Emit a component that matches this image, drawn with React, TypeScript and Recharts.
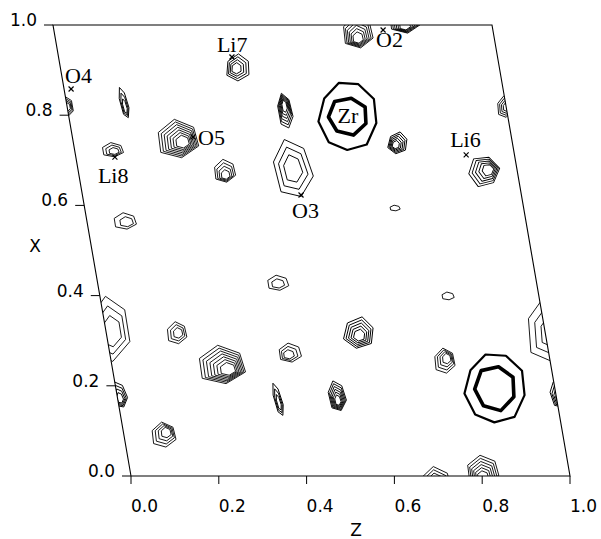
import React from 'react'
import { ScatterChart, Scatter, XAxis, YAxis } from 'recharts'

// cell geometry: horizontal plot coordinate h = z + SHEAR * x
const SHEAR = -0.1777

// axis ticks (fractional coordinates)
const Z_TICKS = [0, 0.2, 0.4, 0.6, 0.8, 1.0]
const X_TICKS = [0, 0.2, 0.4, 0.6, 0.8, 1.0]

// unit cell outline
const CELL_Z = [0, 1, 1, 0, 0]
const CELL_X = [0, 0, 1, 1, 0]

// marked atom sites
const ATOM_NAMES = ['O4', 'Li7', 'O2', 'O5', 'Li8', 'O3', 'Li6']
const ATOM_Z = [0.016, 0.395, 0.75, 0.275, 0.089, 0.498, 0.89]
const ATOM_X = [0.858, 0.929, 0.989, 0.752, 0.707, 0.623, 0.712]

// heavy-atom maxima (Zr and its inversion image)
const HEAVY_NAMES = ['Zr', '']
const HEAVY_Z = [0.636, 0.864]
const HEAVY_X = [0.798, 0.195]
const HEAVY_OUTER_DZ = [0.132, 0.137]
const HEAVY_OUTER_DX = [0.155, 0.157]
const HEAVY_INNER_DZ = [0.089, 0.093]
const HEAVY_INNER_DX = [0.084, 0.1]

// small density peaks: centre, extent of outermost contour, number of contour levels
const PEAK_Z = [0.692, 0.804, 0.405, 0.131, -0.003, 0.087, 0.24, 0.334, 0.495, 0.49, 0.739, 0.924, 0.087, 0.707, 0.008, 0.005, 0.161, 0.251, 0.411, 0.411, 0.576, 0.365, 0.501, 0.793, 0.76, 0.091]
const PEAK_X = [0.984, 0.013, 0.905, 0.827, 0.818, 0.723, 0.747, 0.676, 0.809, 0.681, 0.738, 0.676, 0.565, 0.594, 0.324, 0.18, 0.317, 0.246, 0.428, 0.273, 0.317, 0.169, 0.177, 0.399, 0.255, 0.091]
const PEAK_DZ = [0.073, 0.077, 0.057, 0.018, 0.036, 0.052, 0.1, 0.052, 0.034, 0.091, 0.046, 0.073, 0.055, 0.025, 0.1, 0.036, 0.048, 0.114, 0.052, 0.055, 0.073, 0.018, 0.041, 0.03, 0.05, 0.059]
const PEAK_DX = [0.075, 0.067, 0.062, 0.073, 0.049, 0.033, 0.089, 0.053, 0.082, 0.137, 0.051, 0.071, 0.038, 0.013, 0.151, 0.062, 0.051, 0.089, 0.035, 0.044, 0.073, 0.078, 0.071, 0.018, 0.058, 0.058]
const PEAK_LEVELS = [6, 6, 4, 3, 4, 3, 7, 4, 6, 3, 5, 5, 2, 1, 3, 4, 3, 7, 2, 3, 5, 3, 6, 1, 4, 4]

const W = 601
const H = 539
const X_DOMAIN = [-0.25, 1.05]
const Y_DOMAIN = [-0.05, 1.05]
const MARGIN = { top: 2.45, right: 9.05, bottom: 40.45, left: 21.25 }
const PX_Z = (W - MARGIN.left - MARGIN.right) / (X_DOMAIN[1] - X_DOMAIN[0])
const PX_X = (H - MARGIN.top - MARGIN.bottom) / (Y_DOMAIN[1] - Y_DOMAIN[0])

// look of each peak: tilt (deg), where inner levels crowd to (fraction of radius)
const PEAK_LOOK = [
  [0, 0, 0.5], [0, 0, 0.6], [10, -0.2, 0.1], [-14, 0, 0.4], [0, 0.3, 0], [0, 0.2, 0.3],
  [0, 0.3, 0.2], [0, 0.1, 0.5], [-8, 0, -0.4], [-10, 0, 0], [20, -0.2, 0.3], [-30, 0.4, 0.1],
  [0, 0.3, 0.2], [0, 0, 0], [0, 0.2, 0.1], [-15, 0, 0.4], [0, 0.2, 0], [0, 0.35, 0.3],
  [0, 0, 0.2], [0, -0.2, 0.3], [20, 0.1, 0.2], [-15, 0, 0.3], [-10, 0, 0.4], [0, 0, 0],
  [0, 0.3, -0.3], [0, 0.3, -0.3],
]
const HEX = [1, 0.94, 1.03, 0.96, 1, 0.92]
const LABEL_OFFSET: Record<string, [number, number]> = {
  O4: [-6, -6], Li7: [-15, -5], O2: [-7, 17], O5: [5, 8], Li8: [-17, 26], O3: [-9, 23], Li6: [-16, -8],
}

const pt = (z: number, x: number) => ({ h: z + SHEAR * x, x })

const cellData = CELL_Z.map((z, i) => ({ ...pt(z, CELL_X[i]), i }))
const zTickData = Z_TICKS.map((z) => ({ ...pt(z, 0), v: z }))
const xTickData = X_TICKS.map((x) => ({ ...pt(0, x), v: x }))
const atomData = ATOM_NAMES.map((name, i) => ({ ...pt(ATOM_Z[i], ATOM_X[i]), name }))
const heavyData = HEAVY_NAMES.map((name, i) => ({
  ...pt(HEAVY_Z[i], HEAVY_X[i]), name,
  oz: HEAVY_OUTER_DZ[i], ox: HEAVY_OUTER_DX[i], iz: HEAVY_INNER_DZ[i], ix: HEAVY_INNER_DX[i],
}))

// peaks plus their lattice translations that touch the cell
const peakData: any[] = []
PEAK_Z.forEach((z, id) => {
  for (const tz of [-1, 0, 1]) {
    for (const tx of [-1, 0, 1]) {
      const zz = z + tz
      const xx = PEAK_X[id] + tx
      const rz = PEAK_DZ[id], rx = PEAK_DX[id]
      if (zz < -rz || zz > 1 + rz || xx < -rx || xx > 1 + rx) continue
      const p = pt(zz, xx)
      if (p.h < X_DOMAIN[0] || p.h > X_DOMAIN[1] || p.x < Y_DOMAIN[0] || p.x > Y_DOMAIN[1]) continue
      peakData.push({ ...p, id, dz: rz, dx: rx, levels: PEAK_LEVELS[id] })
    }
  }
})

const ring = (rx: number, ry: number, s: number, ox: number, oy: number, rot: number, mult: number[]) =>
  mult.map((m, k) => {
    const a = rot + (k * 2 * Math.PI) / mult.length
    return `${(ox + rx * s * m * Math.cos(a)).toFixed(2)},${(oy + ry * s * m * Math.sin(a)).toFixed(2)}`
  }).join(' ')

const CellShape = (props: any) => {
  const { cx, cy, payload } = props
  if (payload.i !== 0) return <g />
  const poly = [
    [cx, cy], [cx + PX_Z, cy], [cx + PX_Z + SHEAR * PX_Z, cy - PX_X], [cx + SHEAR * PX_Z, cy - PX_X],
  ].map((q) => q.join(',')).join(' ')
  return (
    <defs>
      <clipPath id="cellClip">
        <polygon points={poly} />
      </clipPath>
    </defs>
  )
}

const PeakShape = (props: any) => {
  const { cx, cy, payload } = props
  const [tilt, sx, sy] = PEAK_LOOK[payload.id]
  const rx = (payload.dz * PX_Z) / 2
  const ry = (payload.dx * PX_X) / 2
  const n = payload.levels
  const rings = []
  for (let i = 0; i < n; i++) {
    const s = 1 - (i * 0.78) / n
    rings.push(
      <polygon key={i} points={ring(rx, ry, s, sx * rx * (1 - s), sy * ry * (1 - s), 0.35, HEX)}
        fill="none" stroke="#000" strokeWidth={0.9} strokeLinejoin="round" />
    )
  }
  return (
    <g clipPath="url(#cellClip)">
      <g transform={`translate(${cx} ${cy}) rotate(${tilt})`}>{rings}</g>
    </g>
  )
}

const HeavyShape = (props: any) => {
  const { cx, cy, payload } = props
  const OCT = [1, 1.04, 0.97, 1, 1.03, 0.96, 1, 0.98, 1.02]
  return (
    <g>
      <g transform={`translate(${cx} ${cy})`}>
        <polygon points={ring((payload.oz * PX_Z) / 2, (payload.ox * PX_X) / 2, 1, 0, 0, 0.2, OCT)}
          fill="none" stroke="#000" strokeWidth={2.2} strokeLinejoin="round" />
        <polygon points={ring((payload.iz * PX_Z) / 2, (payload.ix * PX_X) / 2, 1, 0, 0, 0.4, OCT.slice(0, 7))}
          fill="none" stroke="#000" strokeWidth={3.6} strokeLinejoin="round" />
      </g>
      {payload.name && (
        <text x={cx} y={cy + 7} textAnchor="middle" fontFamily="Liberation Serif" fontSize={22} fill="#000">
          {payload.name}
        </text>
      )}
    </g>
  )
}

const AtomShape = (props: any) => {
  const { cx, cy, payload } = props
  const [dx, dy] = LABEL_OFFSET[payload.name] || [4, -4]
  return (
    <g>
      <line x1={cx - 2.5} y1={cy - 2.5} x2={cx + 2.5} y2={cy + 2.5} stroke="#000" strokeWidth={1.2} />
      <line x1={cx - 2.5} y1={cy + 2.5} x2={cx + 2.5} y2={cy - 2.5} stroke="#000" strokeWidth={1.2} />
      <text x={cx + dx} y={cy + dy} fontFamily="Liberation Serif" fontSize={22} fill="#000">
        {payload.name}
      </text>
    </g>
  )
}

const XTickShape = (props: any) => {
  const { cx, cy, payload } = props
  return (
    <g>
      <line x1={cx - 9} y1={cy} x2={cx} y2={cy} stroke="#000" strokeWidth={1} />
      <text x={cx - 16} y={cy + 1} textAnchor="end" fontFamily="DejaVu Sans" fontSize={17} fill="#000">
        {payload.v.toFixed(1)}
      </text>
    </g>
  )
}

const ZTickShape = (props: any) => {
  const { cx, cy, payload } = props
  return (
    <g>
      <line x1={cx} y1={cy} x2={cx} y2={cy + 8} stroke="#000" strokeWidth={1} />
      <text x={cx} y={cy + 36} textAnchor="start" fontFamily="DejaVu Sans" fontSize={17} fill="#000">
        {payload.v.toFixed(1)}
      </text>
    </g>
  )
}

const App: React.FC = () => {
  return (
    <div style={{ position: 'absolute', left: 0, top: 0, width: W, height: H, background: '#fff' }}>
      <ScatterChart width={W} height={H} margin={MARGIN}>
        <XAxis type="number" dataKey="h" domain={X_DOMAIN} hide />
        <YAxis type="number" dataKey="x" domain={Y_DOMAIN} hide width={0} />
        <Scatter data={cellData} line={{ stroke: '#000', strokeWidth: 1.1 }} shape={CellShape} isAnimationActive={false} />
        <Scatter data={peakData} shape={PeakShape} isAnimationActive={false} />
        <Scatter data={heavyData} shape={HeavyShape} isAnimationActive={false} />
        <Scatter data={atomData} shape={AtomShape} isAnimationActive={false} />
        <Scatter data={xTickData} shape={XTickShape} isAnimationActive={false} />
        <Scatter data={zTickData} shape={ZTickShape} isAnimationActive={false} />
      </ScatterChart>
      <svg width={W} height={H} style={{ position: 'absolute', left: 0, top: 0, pointerEvents: 'none' }}>
        <text x={35} y={252} textAnchor="middle" fontFamily="DejaVu Sans" fontSize={17} fill="#000">X</text>
        <text x={356} y={536} textAnchor="middle" fontFamily="DejaVu Sans" fontSize={17} fill="#000">Z</text>
      </svg>
    </div>
  )
}

export default App
